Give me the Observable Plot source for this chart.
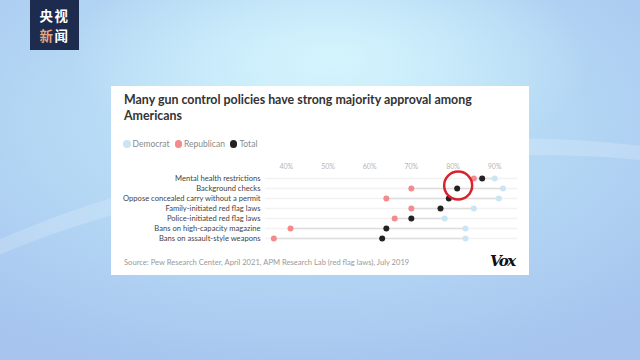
<!DOCTYPE html>
<html>
<head>
<meta charset="utf-8">
<script src="https://cdn.jsdelivr.net/npm/d3@7"></script>
<script src="https://cdn.jsdelivr.net/npm/@observablehq/plot@0.6"></script>
<style>
  html, body { margin: 0; padding: 0; }
  body {
    width: 640px; height: 360px; overflow: hidden; position: relative;
    font-family: Lato, "Open Sans", sans-serif;
    background:
      radial-gradient(ellipse 260px 120px at 330px 60px, rgba(214,246,253,0.95), rgba(214,246,253,0) 100%),
      radial-gradient(ellipse 500px 260px at 300px 120px, #c4e8fa 0%, #b3d6f4 55%, #a6c4ee 100%),
      #b4c8ec;
  }
  .swoosh {
    position: absolute; left: -200px; top: 150px; width: 1100px; height: 400px;
    border-radius: 50%; border-top: 18px solid rgba(255,255,255,0.18);
    transform: rotate(-8deg);
  }
  .logo {
    position: absolute; left: 30px; top: 0; width: 49px; height: 50px;
    background: #1d2b4f;
  }
  .logo div {
    position: absolute; left: 0; width: 49px; text-align: center; color: #fff;
    font-family: "Noto Sans CJK SC", sans-serif; font-weight: 700;
    font-size: 13.4px; line-height: 19.5px; height: 19.5px; letter-spacing: 1.5px;
  }
  .logo .l1 { top: 6px; }
  .logo .l2 { top: 25.5px; }
  .logo .o { color: #e9a67a; }
  .card {
    position: absolute; left: 111px; top: 86px; width: 418px; height: 189px;
    background: #fff;
  }
  .title {
    position: absolute; left: 124px; top: 92px; width: 400px;
    font-weight: 700; font-size: 12.4px; line-height: 16px; color: #333;
  }
  .legend {
    position: absolute; left: 123px; top: 139px; font-size: 8.5px; color: #8a8a8a;
    display: flex; align-items: center; white-space: nowrap;
  }
  .legend span.sw { display: inline-block; width: 7.5px; height: 7.5px; border-radius: 50%; margin-right: 2px; }
  .legend span.it { display: inline-flex; align-items: center; margin-right: 5px; }
  #chart { position: absolute; left: 111px; top: 155px; }
  .source {
    position: absolute; left: 124px; top: 257px; font-size: 7.6px; color: #999;
    white-space: nowrap;
  }
  .vox {
    position: absolute; left: 490px; top: 252px; font-family: "DejaVu Serif", serif;
    font-weight: 900; font-style: italic; font-size: 15px; color: #111; letter-spacing: -1.5px;
  }
</style>
</head>
<body>
<div class="swoosh"></div>
<div class="logo"><div class="l1">央视</div><div class="l2"><span class="o">新</span>闻</div></div>
<div class="card"></div>
<div class="title">Many gun control policies have strong majority approval among Americans</div>
<div class="legend" id="legend"></div>
<div id="chart"></div>
<div class="source">Source: Pew Research Center, April 2021, APM Research Lab (red flag laws), July 2019</div>
<div class="vox">Vox</div>
<script>
const policies = [
  "Mental health restrictions",
  "Background checks",
  "Oppose concealed carry without a permit",
  "Family-initiated red flag laws",
  "Police-initiated red flag laws",
  "Bans on high-capacity magazine",
  "Bans on assault-style weapons"
];
const democrat   = [90, 92, 91, 85, 78, 83, 83];
const republican = [85, 70, 64, 70, 66, 41, 37];
const total      = [87, 81, 79, 77, 70, 64, 63];
const seriesNames = ["Democrat", "Republican", "Total"];
const seriesColors = ["#cbe5f4", "#f48a8d", "#222222"];
const xTicks = [40, 50, 60, 70, 80, 90];
const highlightPolicy = "Background checks";
const highlightValue = 81;

const long = [];
policies.forEach((p, i) => {
  long.push({policy: p, series: "Democrat", value: democrat[i]});
  long.push({policy: p, series: "Republican", value: republican[i]});
  long.push({policy: p, series: "Total", value: total[i]});
});
const ranges = policies.map((p, i) => ({
  policy: p,
  lo: Math.min(democrat[i], republican[i], total[i]),
  hi: Math.max(democrat[i], republican[i], total[i])
}));

const legend = document.getElementById("legend");
seriesNames.forEach((s, i) => {
  const it = document.createElement("span");
  it.className = "it";
  it.innerHTML = `<span class="sw" style="background:${seriesColors[i]}"></span>${s}`;
  legend.appendChild(it);
});

const chart = Plot.plot({
  width: 418,
  height: 95,
  marginLeft: 154,
  marginRight: 14,
  marginTop: 21,
  marginBottom: 10,
  style: {fontFamily: "Lato, sans-serif", fontSize: "7.6px", color: "#444", background: "transparent"},
  x: {domain: [35, 95], ticks: xTicks, tickFormat: d => d + "%"},
  y: {type: "point", domain: policies, padding: 0},
  color: {domain: seriesNames, range: seriesColors},
  marks: [
    Plot.gridX(xTicks, {stroke: "#eeeeee", strokeOpacity: 1, y1: 14, y2: 92}),
    Plot.ruleY(policies, {y: d => d, x1: 35, x2: 95.5, stroke: "#f2f2f2", strokeWidth: 1.5}),
    Plot.ruleY(ranges, {y: "policy", x1: "lo", x2: "hi", stroke: "#dddddd", strokeWidth: 1.6}),
    Plot.axisX({anchor: "top", ticks: xTicks, tickSize: 0, tickPadding: 8, fill: "#b5b5b5", fontSize: 7, tickFormat: d => d + "%", label: null}),
    Plot.axisY({tickSize: 0, tickPadding: 5, fill: "#444", label: null}),
    Plot.dot(long, {x: "value", y: "policy", fill: "series", r: 3, sort: {channel: "fill"}}),
    Plot.dot([{policy: highlightPolicy, value: highlightValue}], {x: "value", y: "policy", r: 14, dx: 1, dy: -3, stroke: "#d8232f", strokeWidth: 2.5, fill: "none"})
  ]
});
document.getElementById("chart").appendChild(chart);
</script>
</body>
</html>
